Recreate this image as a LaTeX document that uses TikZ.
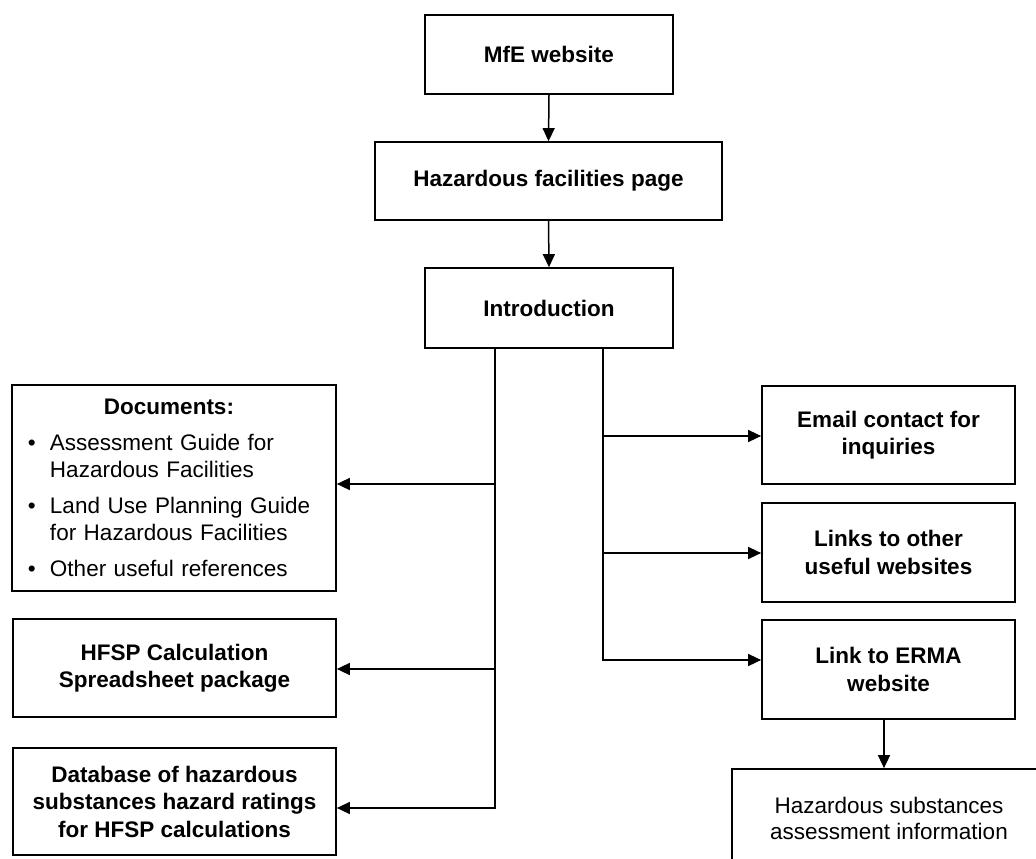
\documentclass[tikz,border=0pt]{standalone}
\usepackage{fontspec}
\setmainfont{Liberation Sans}
\usetikzlibrary{arrows.meta}
\newcommand\docitem[1]{\par\hangindent=31pt\hangafter=1\noindent\makebox[31pt][l]{\hspace{9pt}\textbullet}#1}
\begin{document}
\begin{tikzpicture}[x=1pt,y=-1pt,
  box/.style={draw, line width=1.7pt, inner sep=0pt, align=center,
    font=\fontsize{22.5}{27.5}\selectfont\bfseries},
  plainbox/.style={draw, line width=1.7pt, inner sep=0pt, align=center,
    font=\fontsize{22.5}{26}\selectfont},
  arr/.style={line width=1.5pt, -{Triangle[length=13pt,width=12pt]}},
  lin/.style={line width=1.5pt}]
\useasboundingbox (0,0) rectangle (1036,859);
\clip (0,0) rectangle (1036,859);
% top column
\node[box, minimum width=248pt, minimum height=79pt] (mfe) at (549,54.5) {MfE website};
\node[box, minimum width=347pt, minimum height=78pt] (hfp) at (548.5,181) {Hazardous facilities page};
\node[box, minimum width=248pt, minimum height=80pt] (intro) at (549,308) {Introduction};
% left column
\node[draw, line width=1.7pt, inner sep=0pt, minimum width=324pt, minimum height=206pt,
  text width=310pt, align=left, font=\fontsize{22.5}{27.5}\selectfont] (docs) at (174,488)
  {\noindent\makebox[300pt][c]{\bfseries Documents:}\par\setlength\parskip{8pt}%
   \docitem{Assessment Guide for\newline Hazardous Facilities}%
   \docitem{Land Use Planning Guide\newline for Hazardous Facilities}%
   \docitem{Other useful references}\par};
\node[box, minimum width=323pt, minimum height=98pt] (hfsp) at (174.5,668) {HFSP Calculation\\Spreadsheet package};
\node[box, minimum width=323pt, minimum height=107pt] (db) at (174.5,801.5) {Database of hazardous\\substances hazard ratings\\for HFSP calculations};
% right column
\node[box, minimum width=253pt, minimum height=98pt] (email) at (888.5,435) {Email contact for\\inquiries};
\node[box, minimum width=253pt, minimum height=99pt] (links) at (888.5,552.5) {Links to other\\useful websites};
\node[box, minimum width=253pt, minimum height=99pt] (erma) at (888.5,669.5) {Link to ERMA\\website};
\node[plainbox, minimum width=314pt, minimum height=98pt] (hsa) at (889,818) {Hazardous substances\\assessment information};
% connectors
\draw[arr] (mfe.south) -- (hfp.north);
\draw[arr] (hfp.south) -- (intro.north);
\coordinate (lt) at (495,348);
\coordinate (l1) at (495,484);
\coordinate (l2) at (495,669);
\coordinate (l3) at (495,808);
\draw[arr] (lt) |- (l3 -| db.east);
\draw[arr] (l1) -- (l1 -| docs.east);
\draw[arr] (l2) -- (l2 -| hfsp.east);
\coordinate (rt) at (603,348);
\coordinate (r1) at (603,436);
\coordinate (r2) at (603,553);
\coordinate (r3) at (603,660);
\draw[arr] (rt) |- (r3 -| erma.west);
\draw[arr] (r1) -- (r1 -| email.west);
\draw[arr] (r2) -- (r2 -| links.west);
\draw[arr] ([xshift=-4.5pt]erma.south) -- ([xshift=-4.5pt]erma.south |- hsa.north);
\end{tikzpicture}
\end{document}
